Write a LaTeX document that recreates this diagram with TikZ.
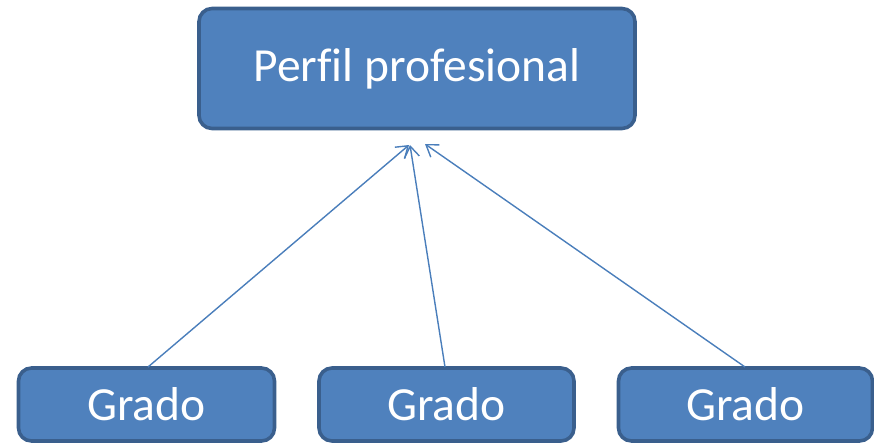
\documentclass[tikz,border=0pt]{standalone}
\usepackage{fontspec}
\setmainfont[Ligatures=NoCommon]{Carlito}
\usetikzlibrary{arrows.meta}
\definecolor{boxfill}{HTML}{4F81BD}
\definecolor{boxline}{HTML}{3A5F8D}
\definecolor{arrowc}{HTML}{4A7EBB}
\begin{document}
\begin{tikzpicture}[x=1pt,y=-1pt,
  box/.style={draw=boxline, fill=boxfill, line width=3.6pt, rounded corners=13pt,
    text=white, font=\fontsize{47.5}{52}\selectfont, inner sep=0pt, anchor=center},
  conn/.style={draw=arrowc, line width=1.4pt, -{Straight Barb[length=11pt,width=15pt,line width=1.4pt]}}]
\useasboundingbox (0,0) rectangle (874,445);
\node[box, minimum width=436pt, minimum height=120pt] (top) at (417,68.5) {Perfil profesional};
\node[box, minimum width=256pt, minimum height=73pt] (g1) at (146.5,404.5) {\raisebox{-3pt}{Grado}};
\node[box, minimum width=255pt, minimum height=73pt] (g2) at (446.5,404.5) {\raisebox{-3pt}{Grado}};
\node[box, minimum width=254pt, minimum height=73pt] (g3) at (745.5,404.5) {\raisebox{-3pt}{Grado}};
\coordinate (t1) at (409,145);
\coordinate (t2) at (410,145);
\coordinate (t3) at (425,144);
\coordinate (s1) at (148,367);
\coordinate (s2) at (445,367);
\coordinate (s3) at (745,367);
\draw[conn] (s1) -- (t1);
\draw[conn] (s2) -- (t2);
\draw[conn] (s3) -- (t3);
\end{tikzpicture}
\end{document}
